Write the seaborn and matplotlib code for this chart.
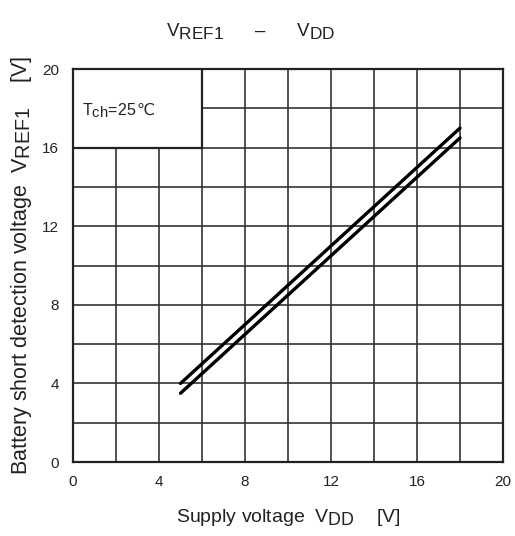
import matplotlib
matplotlib.use("Agg")
import matplotlib.pyplot as plt
import matplotlib._mathtext as mathtext_internals
from matplotlib.patches import Rectangle
import pandas as pd
import seaborn as sns

# Supply voltage VDD [V] and detection thresholds VREF1 [V]
vdd = [5.0, 18.0]
vref1_upper = [4.0, 17.0]
vref1_lower = [3.5, 16.5]
x_ticks = [0, 4, 8, 12, 16, 20]
y_ticks = [0, 4, 8, 12, 16, 20]

df = pd.DataFrame({
    "vdd": vdd + vdd,
    "vref1": vref1_upper + vref1_lower,
    "curve": ["upper"] * len(vdd) + ["lower"] * len(vdd),
})

sns.set_style("white")
plt.rcParams["font.family"] = ["Liberation Sans", "DejaVu Sans"]
plt.rcParams["mathtext.fontset"] = "custom"
plt.rcParams["mathtext.rm"] = "Liberation Sans"
plt.rcParams["mathtext.it"] = "Liberation Sans"
plt.rcParams["mathtext.bf"] = "Liberation Sans"
# larger subscripts, datasheet style
mathtext_internals.SHRINK_FACTOR = 0.92

INK = "#222222"

fig = plt.figure(figsize=(5.15, 5.36), dpi=100)
ax = fig.add_axes([0.1417, 0.138, 0.835, 0.733])

sns.lineplot(data=df, x="vdd", y="vref1", units="curve", estimator=None,
             color="black", linewidth=2.4, ax=ax, zorder=5, legend=False)

grid_steps = list(range(0, 21, 2))
ax.set_xlim(0, 20)
ax.set_ylim(0, 20)
ax.set_xticks(grid_steps)
ax.set_yticks(grid_steps)
ax.set_xticklabels([str(v) if v in x_ticks else "" for v in grid_steps])
ax.set_yticklabels([str(v) if v in y_ticks else "" for v in grid_steps])
ax.tick_params(axis="both", length=0, labelsize=11, colors=INK)
ax.tick_params(axis="x", pad=9)
ax.tick_params(axis="y", pad=10)
ax.grid(True, color="#333333", linewidth=1.2)
ax.set_axisbelow(True)
for s in ax.spines.values():
    s.set_color(INK)
    s.set_linewidth(1.6)

# Condition box in the upper-left corner
COND_Y = 17.65
ax.add_patch(Rectangle((0, 16), 6, 4, facecolor="white", edgecolor=INK,
                       linewidth=1.6, zorder=3))
cond = ax.text(0.42, COND_Y, r"T$_{\mathregular{ch}}$=25", fontsize=11.5,
               ha="left", va="baseline", zorder=4, color=INK)
ax.annotate("℃", xy=(1.0, COND_Y), xycoords=(cond, "data"), ha="left",
            va="baseline", fontsize=11.5, family="DejaVu Sans", color=INK,
            zorder=4)

ax.set_xlabel(r"Supply voltage  V$_{\mathregular{DD}}$    [V]", fontsize=14,
              labelpad=13, color=INK)
ax.set_ylabel(r"Battery short detection voltage  V$_{\mathregular{REF1}}$    [V]",
              fontsize=15.5, labelpad=6, color=INK)
fig.text(0.487, 0.943, r"V$_{\mathregular{REF1}}$      –      V$_{\mathregular{DD}}$",
         fontsize=13.5, ha="center", va="center", color=INK)

fig.savefig("out.png", dpi=100, facecolor="white")
